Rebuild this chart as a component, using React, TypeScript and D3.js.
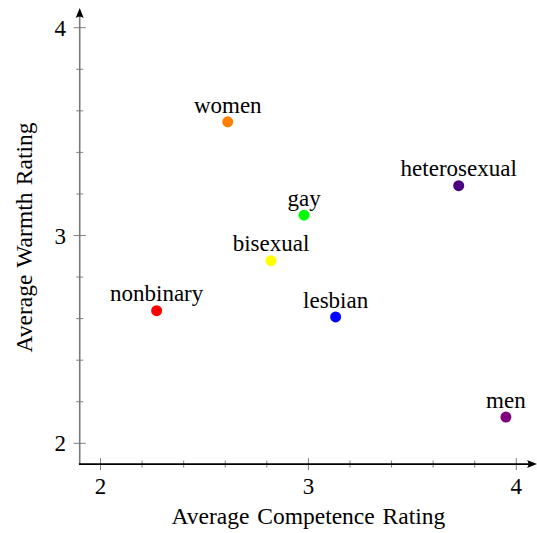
import React from "react";
import * as d3 from "d3";

const categories = ["women", "heterosexual", "gay", "bisexual", "nonbinary", "lesbian", "men"];
const competence = [2.612, 3.723, 2.979, 2.82, 2.27, 3.131, 3.95];
const warmth = [3.547, 3.24, 3.098, 2.879, 2.638, 2.608, 2.126];
const colors = ["#ff8000", "#4b0082", "#00ff00", "#ffff00", "#ff0000", "#0000ff", "#800080"];
const xTickLabels = [2, 3, 4];
const yTickLabels = [2, 3, 4];

const W = 537;
const H = 533;
const FONT = "'Liberation Serif', 'Times New Roman', serif";

export default function App() {
  const x = d3.scaleLinear().domain([2, 4]).range([100.5, 516.3]);
  const y = d3.scaleLinear().domain([2, 4]).range([443.3, 27.7]);
  const x0 = x(1.9);
  const y0 = y(1.9);
  const xTicks = x.ticks(8);
  const yTicks = y.ticks(8);
  const isMajor = (v: number) => Math.abs(v - Math.round(v)) < 1e-9;

  const xEnd = 537;
  const yEnd = 8;

  return (
    <svg
      width={W}
      height={H}
      style={{ position: "absolute", left: 0, top: 0, background: "#fff" }}
      fontFamily={FONT}
    >
      {/* ticks */}
      {xTicks.map((t) => (
        <line
          key={"xt" + t}
          x1={x(t)}
          x2={x(t)}
          y1={y0 - (isMajor(t) ? 6 : 3.5)}
          y2={y0 + (isMajor(t) ? 6 : 3.5)}
          stroke="#808080"
          strokeWidth={1}
        />
      ))}
      {yTicks.map((t) => (
        <line
          key={"yt" + t}
          y1={y(t)}
          y2={y(t)}
          x1={x0 - (isMajor(t) ? 6 : 3.5)}
          x2={x0 + (isMajor(t) ? 6 : 3.5)}
          stroke="#808080"
          strokeWidth={1}
        />
      ))}
      {/* y axis (gray) */}
      <line x1={x0} x2={x0} y1={y0} y2={yEnd + 4} stroke="#7a7a7a" strokeWidth={1.6} />
      <path
        d={`M${x0},${yEnd} L${x0 + 4},${yEnd + 10} Q${x0},${yEnd + 7} ${x0 - 4},${yEnd + 10} Z`}
        fill="#000"
      />
      {/* x axis (black) */}
      <line x1={x0 - 0.8} x2={xEnd - 4} y1={y0} y2={y0} stroke="#000" strokeWidth={1.6} />
      <path
        d={`M${xEnd},${y0} L${xEnd - 10},${y0 - 4} Q${xEnd - 7},${y0} ${xEnd - 10},${y0 + 4} Z`}
        fill="#000"
      />
      {/* tick labels */}
      {xTickLabels.map((t) => (
        <text key={"xl" + t} x={x(t)} y={y0 + 30} textAnchor="middle" fontSize={23} fill="#000">
          {t}
        </text>
      ))}
      {yTickLabels.map((t) => (
        <text key={"yl" + t} x={66} y={y(t) + 8} textAnchor="end" fontSize={23} fill="#000">
          {t}
        </text>
      ))}
      {/* axis labels */}
      <text x={x(3)} y={524} textAnchor="middle" fontSize={23.5} wordSpacing={2} fill="#000">
        Average Competence Rating
      </text>
      <text
        transform={`translate(32, ${y(3) + 2}) rotate(-90)`}
        textAnchor="middle"
        fontSize={23.5}
        wordSpacing={1.5}
        fill="#000"
      >
        Average Warmth Rating
      </text>
      {/* points */}
      {categories.map((c, i) => (
        <g key={c}>
          <circle cx={x(competence[i])} cy={y(warmth[i])} r={5.5} fill={colors[i]} />
          <text
            x={x(competence[i])}
            y={y(warmth[i]) - 9.3}
            textAnchor="middle"
            fontSize={23}
            fill="#000"
          >
            {c}
          </text>
        </g>
      ))}
    </svg>
  );
}
